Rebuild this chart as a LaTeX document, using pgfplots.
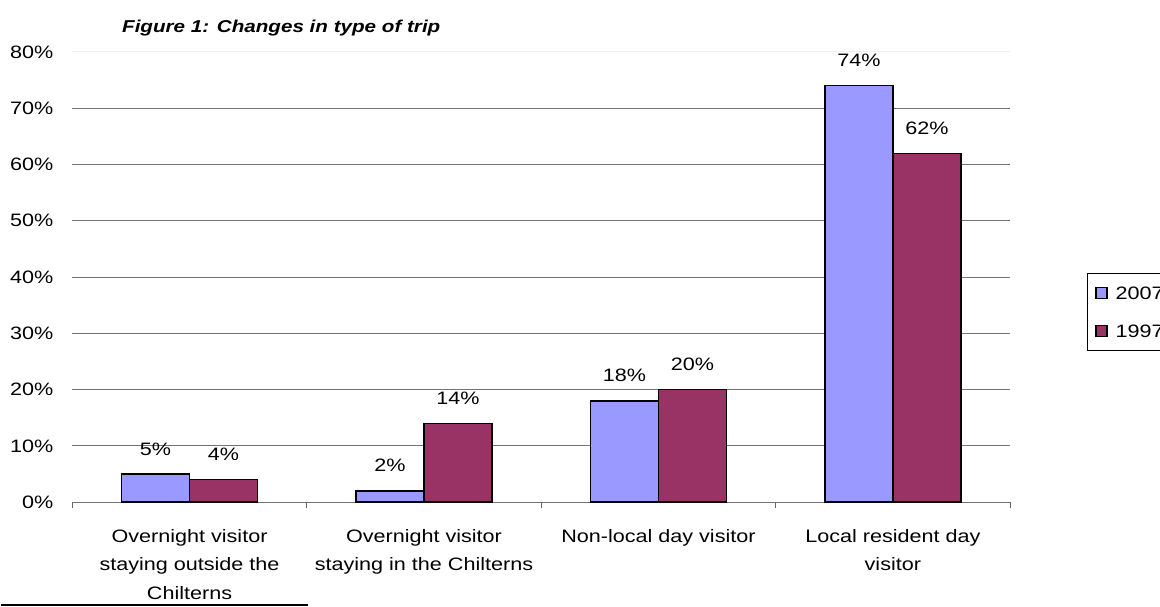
\documentclass[border=0pt]{standalone}
\usepackage{fontspec}
\setmainfont{Liberation Sans}[FakeStretch=1.2]
\usepackage{pgfplots}
\pgfplotsset{compat=1.18}

\definecolor{c2007}{HTML}{9999FF}
\definecolor{c1997}{HTML}{993366}
\newcommand{\chartfont}{\fontsize{9}{14.3}\selectfont}

\begin{document}
\begin{tikzpicture}
\begin{axis}[
  at={(0,0)}, anchor=south west,
  scale only axis,
  width=469.25pt, height=225.25pt,
  xmin=-0.5, xmax=3.5, ymin=0, ymax=80,
  ybar=0pt, bar width=34pt,
  clip=false,
  /pgf/number format/assume math mode=true,
  axis x line*=bottom, axis y line*=left,
  y axis line style={draw=none},
  x axis line style={draw=black!55, line width=0.6pt, -},
  ytick={0,10,...,70},
  extra y ticks={80},
  extra y tick style={grid style={black!6, line width=0.5pt}},
  ytick style={draw=none},
  yticklabel={\pgfmathprintnumber{\tick}\%},
  yticklabel style={anchor=east, inner sep=0pt, xshift=-9.25pt},
  ymajorgrids,
  grid style={black!55, line width=0.5pt},
  % category boundaries carry the tick marks
  xtick={-0.5,0.5,1.5,2.5,3.5},
  xticklabels={},
  xtick style={draw=black!60, line width=0.6pt},
  xtick align=outside,
  major tick length=3pt,
  % category names sit at the bar groups
  extra x ticks={0,1,2,3},
  extra x tick labels={{Overnight visitor\\staying outside the\\Chilterns},
               {Overnight visitor\\staying in the Chilterns},
               {Non-local day visitor},
               {Local resident day\\visitor}},
  extra x tick style={major tick length=0pt, grid=none},
  xticklabel style={anchor=north, inner sep=0pt, yshift=-13.25pt, align=center},
  tick label style={font=\chartfont},
  nodes near coords={\pgfmathprintnumber{\pgfplotspointmeta}\%},
  every node near coord/.append style={anchor=base, inner sep=0pt, yshift=9.5pt, font=\chartfont, text=black},
  legend style={at={(1.0820,0.5094)}, anchor=north west, overlay,
                draw=black, line width=0.5pt,
                inner xsep=4pt, inner ysep=6.5pt,
                nodes={inner sep=0pt, text height=6.44pt, text depth=0pt},
                row sep=12.56pt, column sep=4pt,
                font=\chartfont},
  legend cell align=left,
]
\addplot[fill=c2007, draw=black, line width=0.7pt,
  legend image code/.code={\draw[fill=c2007, draw=black, line width=0.6pt] (0pt,-2.75pt) rectangle (5.5pt,2.75pt);}]
  coordinates {(0,5) (1,2) (2,18) (3,74)};
\addplot[fill=c1997, draw=black, line width=0.7pt,
  legend image code/.code={\draw[fill=c1997, draw=black, line width=0.6pt] (0pt,-2.75pt) rectangle (5.5pt,2.75pt);}]
  coordinates {(0,4) (1,14) (2,20) (3,62)};
\legend{2007,1997}
\end{axis}
\node[anchor=base west, inner sep=0pt, font=\fontsize{8.6}{10}\selectfont\bfseries\itshape]
  at (24.75pt,235.1pt) {Figure 1: Changes in type of trip};
% footnote rule
\draw[line width=0.85pt] (-35.75pt,-51.6pt) -- (117.75pt,-51.6pt);
% page extent
\path (-35.75pt,-52.25pt) rectangle (544.25pt,251.25pt);
\end{tikzpicture}
\end{document}
